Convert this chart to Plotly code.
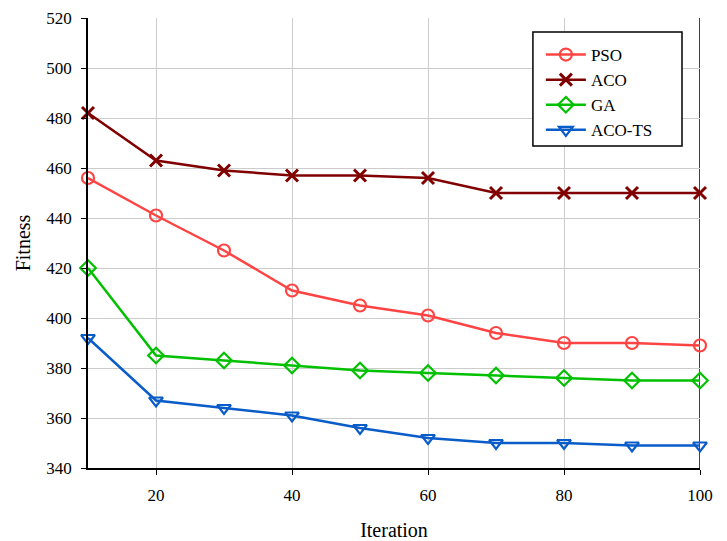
import plotly.graph_objects as go

iterations = [10, 20, 30, 40, 50, 60, 70, 80, 90, 100]
pso = [456, 441, 427, 411, 405, 401, 394, 390, 390, 389]
aco = [482, 463, 459, 457, 457, 456, 450, 450, 450, 450]
ga = [420, 385, 383, 381, 379, 378, 377, 376, 375, 375]
aco_ts = [392, 367, 364, 361, 356, 352, 350, 350, 349, 349]

series = [
    ("PSO", pso, "#FF4444", "circle-open"),
    ("ACO", aco, "#800000", "x-thin-open"),
    ("GA", ga, "#00C000", "diamond-open"),
    ("ACO-TS", aco_ts, "#0A5CC8", "triangle-down-open"),
]

fig = go.Figure()
for name, vals, color, sym in series:
    fig.add_trace(go.Scatter(
        x=iterations, y=vals, name=name, mode="lines+markers",
        line=dict(color=color, width=2.5),
        marker=dict(symbol=sym, size=12, color=color,
                    line=dict(color=color, width=2.2 if sym != "x-thin-open" else 3)),
        cliponaxis=False,
    ))

font = "Liberation Serif, Times New Roman, serif"
fig.update_layout(
    width=727, height=541,
    margin=dict(l=88, r=27, t=18, b=73),
    paper_bgcolor="white", plot_bgcolor="white",
    font=dict(family=font, size=17, color="black"),
    xaxis=dict(range=[10, 100], tickvals=[20, 40, 60, 80, 100],
               showgrid=True, gridcolor="#CCCCCC", gridwidth=1,
               showline=True, linecolor="black", linewidth=1.5, mirror=False,
               ticks="outside", ticklen=5, tickcolor="black",
               tickfont=dict(size=17), zeroline=False, automargin=False,
               ticklabelstandoff=6,
               title=dict(text="Iteration", font=dict(size=20), standoff=19)),
    yaxis=dict(range=[340, 520], dtick=20,
               showgrid=True, gridcolor="#CCCCCC", gridwidth=1,
               showline=True, linecolor="black", linewidth=1.5,
               ticks="outside", ticklen=5, tickcolor="black",
               tickfont=dict(size=17), zeroline=False, automargin=False,
               ticklabelstandoff=6,
               title=dict(text="Fitness", font=dict(size=20), standoff=10)),
    legend=dict(x=0.740, y=0.9578, xanchor="left", yanchor="top",
                bgcolor="rgba(0,0,0,0)", borderwidth=0,
                font=dict(size=17), tracegroupgap=0, itemwidth=40),
    showlegend=True,
)
# legend frame
fig.add_shape(type="rect", xref="paper", yref="paper",
              x0=0.727, x1=0.9706, y0=0.7156, y1=0.969,
              line=dict(color="black", width=1.5), fillcolor="white", layer="above")
# right border line
fig.add_shape(type="line", xref="x", yref="paper", x0=100, x1=100, y0=0, y1=1,
              line=dict(color="black", width=1.5), layer="below")

fig.write_html("out.html", config={"displayModeBar": False},
               post_script="document.body.style.margin='0';document.body.style.padding='0';")
